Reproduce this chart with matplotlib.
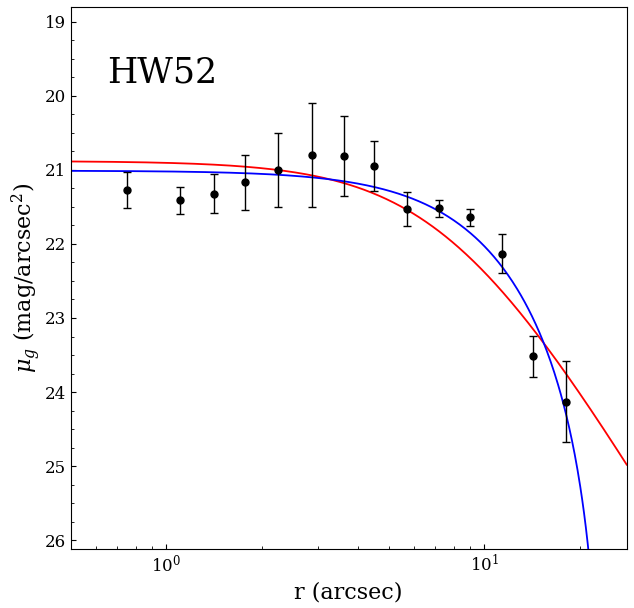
import numpy as np
import matplotlib
matplotlib.use("Agg")
import matplotlib.pyplot as plt
from matplotlib.ticker import MultipleLocator

plt.rcParams['font.family'] = ['DejaVu Serif']
plt.rcParams['mathtext.fontset'] = 'dejavuserif'

# Surface brightness profile of HW52 (g band)
radius = [0.753, 1.104, 1.407, 1.760, 2.249, 2.862, 3.622, 4.498,
          5.71, 7.18, 9.00, 11.33, 14.17, 18.0]
mu_g = [21.27, 21.41, 21.32, 21.17, 21.00, 20.80, 20.81, 20.95,
        21.53, 21.52, 21.64, 22.13, 23.52, 24.13]
mu_err = [0.24, 0.18, 0.26, 0.37, 0.50, 0.70, 0.54, 0.34,
          0.23, 0.11, 0.115, 0.26, 0.28, 0.55]

# fitted model parameters
eff_mu0, eff_a, eff_gamma = 20.88, 7.91, 2.9      # red: EFF profile
king_mu0, king_rc, king_rt = 21.01, 14.0, 24.0    # blue: King profile

r = np.logspace(np.log10(0.5), np.log10(28.0), 600)

mu_eff = eff_mu0 + 1.25 * eff_gamma * np.log10(1 + (r / eff_a) ** 2)

rk = r[r < king_rt]
c = 1 / np.sqrt(1 + (king_rt / king_rc) ** 2)
ratio = (1 / np.sqrt(1 + (rk / king_rc) ** 2) - c) / (1 - c)
mu_king = king_mu0 - 5 * np.log10(ratio)

fig = plt.figure(figsize=(6.34, 6.08), dpi=100)
ax = fig.add_axes([0.1115, 0.097, 0.877, 0.8915])

ax.plot(r, mu_eff, color='red', lw=1.3)
ax.plot(rk, mu_king, color='blue', lw=1.3)
ax.errorbar(radius, mu_g, yerr=mu_err, fmt='o', color='black',
            ms=5, elinewidth=1, capsize=3, capthick=1)

ax.set_xscale('log')
ax.set_xlim(0.5, 28.0)
ax.set_ylim(26.12, 18.8)
ax.yaxis.set_minor_locator(MultipleLocator(0.25))
ax.tick_params(which='both', direction='in', top=False, right=False,
               labelsize=12)

ax.set_xlabel('r (arcsec)', fontsize=16)
ax.set_ylabel(r'$\mu_g$ (mag/arcsec$^2$)', fontsize=16, labelpad=1)
ax.text(0.065, 0.88, 'HW52', transform=ax.transAxes, fontsize=25,
        ha='left', va='center')

fig.savefig('out.png', dpi=100)
